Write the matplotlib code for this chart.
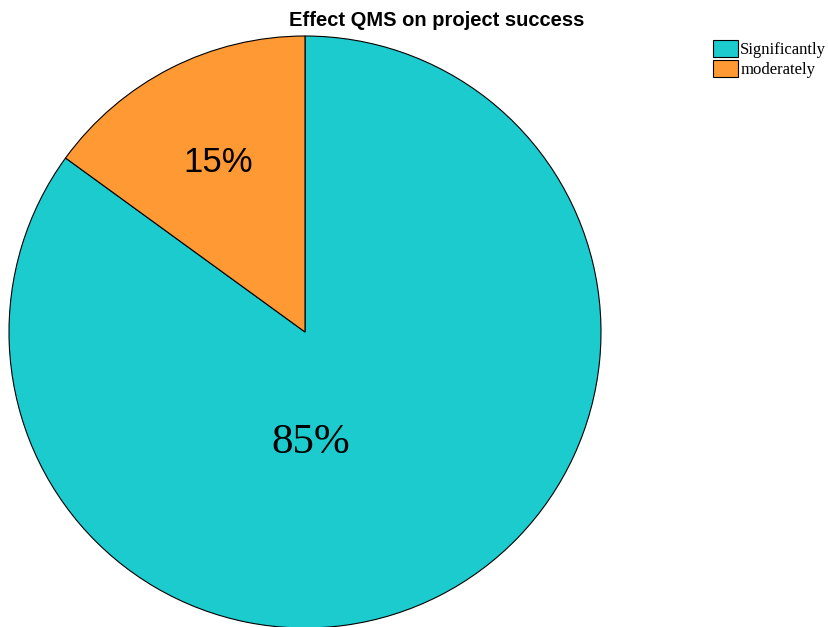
import matplotlib.pyplot as plt
from matplotlib.patches import Patch

# Datos
labels = ['Significantly', 'moderately']
values = [85, 15]
colors = ['#1CCBCE', '#FF9933']
pct_text = ['85%', '15%']

fig = plt.figure(figsize=(8.29, 6.27), dpi=100)
W, H = 829, 627
cx, cy, r = 305, 332, 296
ax = fig.add_axes([(cx - r) / W, (H - cy - r) / H, 2 * r / W, 2 * r / H])

ax.pie(values, colors=colors, startangle=144, counterclock=True, radius=1,
       wedgeprops={'edgecolor': 'black', 'linewidth': 0.8})
ax.set_xlim(-1, 1)
ax.set_ylim(-1, 1)
ax.set_aspect('auto')
ax.axis('off')

# Etiquetas de porcentaje
ax.text(0.02, -0.375, pct_text[0], ha='center', va='center', fontsize=31,
        family='Liberation Serif')
ax.text(-0.294, 0.571, pct_text[1], ha='center', va='center', fontsize=25,
        family='Liberation Sans')

fig.text(437 / W, 1 - 21 / H, 'Effect QMS on project success', ha='center',
         va='center', fontsize=14.5, fontweight='bold', family='Liberation Sans')

handles = [Patch(facecolor=c, edgecolor='black', linewidth=0.8) for c in colors]
fig.legend(handles, labels, loc='upper left', bbox_to_anchor=(701 / W, 1 - 28 / H),
           frameon=False, prop={'family': 'Liberation Serif', 'size': 12},
           handlelength=1.5, handleheight=1.25, handletextpad=0.15,
           labelspacing=0.1, borderpad=0.2)

fig.savefig('out.png', dpi=100)
